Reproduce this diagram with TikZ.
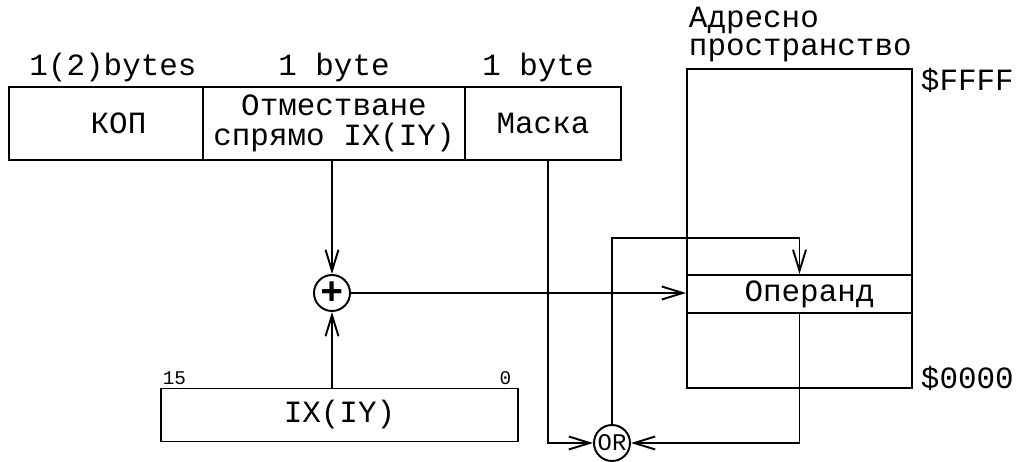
\documentclass[tikz,border=0pt]{standalone}
\usepackage{fontspec}
\setmainfont{Liberation Mono}
\usetikzlibrary{calc,arrows.meta}

\begin{document}
\begin{tikzpicture}[x=0.02cm,y=-0.02cm,line width=1.1pt,>={Straight Barb[length=4.2mm,width=2.6mm]},
  field/.style={draw,minimum height=1.46cm,inner sep=0pt,align=center},
  ring/.style={draw,circle,inner sep=0pt,minimum size=0.72cm},
  every node/.style={font=\fontsize{17.6}{17}\selectfont}]
  \useasboundingbox (0,0) rectangle (1017,462);
  \node[field,minimum width=3.88cm] (kop) at (106,123.5) {\hspace{0.5cm}КОП};
  \node[field,minimum width=5.24cm] (offs) at (334,123.5) {Отместване\\спрямо IX(IY)};
  \node[field,minimum width=3.12cm] (mask) at (543,123.5) {Маска};
  \node at (113,68) {1(2)bytes};
  \node at (334,68) {1 byte};
  \node at (538,68) {1 byte};
  \node[draw,minimum width=4.5cm,minimum height=6.38cm] (mem) at (799.5,228.5) {};
  \node[draw,minimum width=4.5cm,minimum height=0.76cm,inner sep=0pt] (oper) at (799.5,294) {\hspace{0.4cm}Операнд};
  \node[anchor=north west,align=left,inner sep=0pt,font=\fontsize{17.6}{16}\selectfont] (title) at (688,6) {Адресно\\пространство};
  \node[anchor=west,inner sep=0pt] (top) at (920,80) {\$FFFF};
  \node[anchor=west,inner sep=0pt] (bot) at (920,378) {\$0000};
  \node[draw,minimum width=7.14cm,minimum height=1.06cm,inner sep=0pt] (reg) at (339.5,415) {IX(IY)};
  \node[anchor=south west,inner sep=1pt,font=\fontsize{11}{12}\selectfont] (msb) at (reg.north west) {15};
  \node[anchor=south east,inner sep=1pt,font=\fontsize{11}{12}\selectfont] (lsb) at ([xshift=-0.1cm]reg.north east) {0};
  \node[ring,font=\fontsize{22}{22}\bfseries] (plus) at (332,293) {+};
  \node[ring,font=\fontsize{13.6}{14}\selectfont] (orn) at (612,443) {OR};
  \coordinate (loop) at (612,238);
  \coordinate (maskout) at (548,160);
  \draw[->] (plus |- offs.south) -- (plus.north);
  \draw[->] (plus |- reg.north) -- (plus.south);
  \draw[->] (plus.east) -- (plus -| oper.west);
  \draw[->] (maskout) |- (orn.west);
  \draw[->] (oper.south) |- (orn.east);
  \draw[->] (orn.north) -- (loop) -| (oper.north);
\end{tikzpicture}
\end{document}
